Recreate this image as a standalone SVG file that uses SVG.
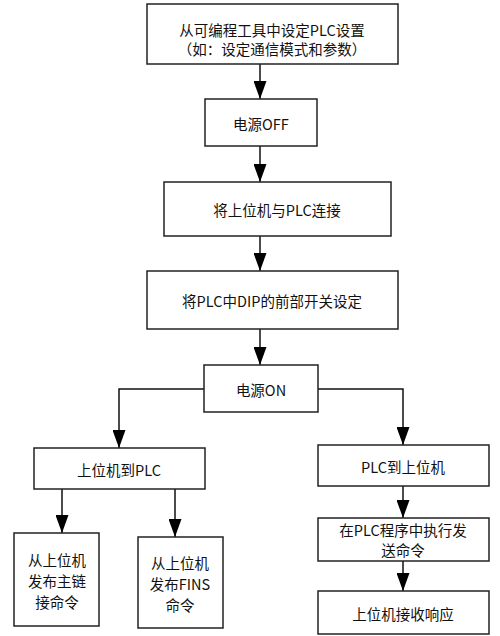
<svg xmlns="http://www.w3.org/2000/svg" width="500" height="636" viewBox="0 0 500 636">
<style>
.b{fill:#fff;stroke:#222;stroke-width:1.5}
.t{font-family:"Noto Sans CJK SC","Noto Sans CJK JP",sans-serif;font-size:14.5px;fill:#111;text-anchor:middle;dominant-baseline:central}
.c{fill:none;stroke:#111;stroke-width:1.5}
</style>
<defs>
<marker id="a" viewBox="0 0 18 13" refX="18" refY="6.5" markerWidth="18" markerHeight="13" markerUnits="userSpaceOnUse" orient="auto"><path d="M0,0L18,6.5L0,13z" fill="#000"/></marker>
</defs>
<rect width="500" height="636" fill="#fff"/>
<g id="connectors">
<path class="c" d="M260,64V99" marker-end="url(#a)"/>
<path class="c" d="M260,146V182" marker-end="url(#a)"/>
<path class="c" d="M260,236V271" marker-end="url(#a)"/>
<path class="c" d="M260,329V365" marker-end="url(#a)"/>
<path class="c" d="M204,389H119V448" marker-end="url(#a)"/>
<path class="c" d="M318,389H403V445" marker-end="url(#a)"/>
<path class="c" d="M62,489V533" marker-end="url(#a)"/>
<path class="c" d="M175,489V537" marker-end="url(#a)"/>
<path class="c" d="M403,486V518" marker-end="url(#a)"/>
<path class="c" d="M403,561V591" marker-end="url(#a)"/>
</g>
<g id="n1"><rect class="b" x="147" y="4" width="251" height="60"/><text class="t" x="272" y="29">从可编程工具中设定PLC设置</text><text class="t" x="272" y="48">（如：设定通信模式和参数）</text></g>
<g id="n2"><rect class="b" x="205" y="99" width="112" height="47"/><text class="t" x="261" y="123">电源OFF</text></g>
<g id="n3"><rect class="b" x="164" y="182" width="227" height="54"/><text class="t" x="277" y="209">将上位机与PLC连接</text></g>
<g id="n4"><rect class="b" x="147" y="271" width="251" height="58"/><text class="t" x="272" y="300">将PLC中DIP的前部开关设定</text></g>
<g id="n5"><rect class="b" x="204" y="365" width="114" height="47"/><text class="t" x="261" y="389">电源ON</text></g>
<g id="n6"><rect class="b" x="34" y="448" width="171" height="41"/><text class="t" x="119" y="469">上位机到PLC</text></g>
<g id="n7"><rect class="b" x="318" y="445" width="171" height="41"/><text class="t" x="403" y="466">PLC到上位机</text></g>
<g id="n8"><rect class="b" x="14" y="533" width="85" height="93"/><text class="t" x="57" y="559">从上位机</text><text class="t" x="57" y="580">发布主链</text><text class="t" x="57" y="601">接命令</text></g>
<g id="n9"><rect class="b" x="138" y="537" width="85" height="91"/><text class="t" x="180" y="562">从上位机</text><text class="t" x="180" y="583">发布FINS</text><text class="t" x="180" y="604">命令</text></g>
<g id="n10"><rect class="b" x="318" y="518" width="171" height="43"/><text class="t" x="403" y="529">在PLC程序中执行发</text><text class="t" x="403" y="549">送命令</text></g>
<g id="n11"><rect class="b" x="318" y="591" width="171" height="43"/><text class="t" x="403" y="613">上位机接收响应</text></g>
</svg>
